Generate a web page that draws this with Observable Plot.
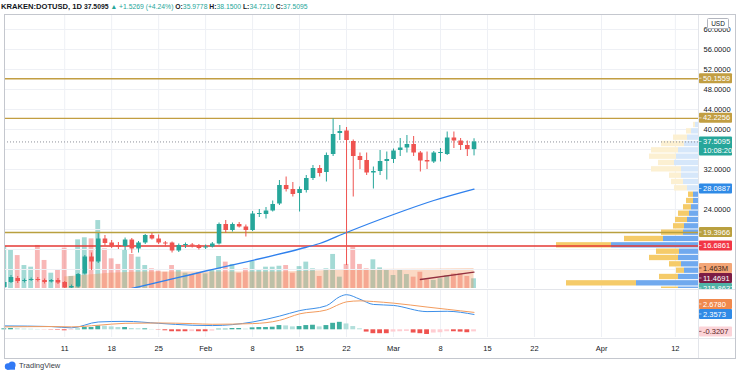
<!DOCTYPE html>
<html><head><meta charset="utf-8">
<script src="https://cdn.jsdelivr.net/npm/d3@7"></script>
<script src="https://cdn.jsdelivr.net/npm/@observablehq/plot@0.6"></script>
<style>
html,body{margin:0;padding:0;background:#fff}
#chart{position:relative;width:736px;height:374px;overflow:hidden;background:#fff;font-family:"Liberation Sans",Arial,sans-serif}
#chart svg{position:absolute;left:0;top:0}
.hdr{position:absolute;left:1px;top:2px;font-size:6.8px;line-height:10px;white-space:nowrap;color:#131722;font-weight:bold}
.hdr .t{font-size:7.6px}
.hdr .g{color:#26a69a;font-weight:normal}
.ln{position:absolute;background:#c4c7ce}
.sep{position:absolute;background:#e3e5ea}
.foot{position:absolute;left:4px;top:361px;font-size:7.5px;color:#3a3e48;display:flex;align-items:center;gap:2px}
</style></head><body><div id="chart"></div>
<script>
// ---------------- data ----------------
const dates = ["2021-01-02","2021-01-03","2021-01-04","2021-01-05","2021-01-06","2021-01-07","2021-01-08","2021-01-09","2021-01-10","2021-01-11",
"2021-01-12","2021-01-13","2021-01-14","2021-01-15","2021-01-16","2021-01-17","2021-01-18","2021-01-19","2021-01-20","2021-01-21",
"2021-01-22","2021-01-23","2021-01-24","2021-01-25","2021-01-26","2021-01-27","2021-01-28","2021-01-29","2021-01-30","2021-01-31",
"2021-02-01","2021-02-02","2021-02-03","2021-02-04","2021-02-05","2021-02-06","2021-02-07","2021-02-08","2021-02-09","2021-02-10",
"2021-02-11","2021-02-12","2021-02-13","2021-02-14","2021-02-15","2021-02-16","2021-02-17","2021-02-18","2021-02-19","2021-02-20",
"2021-02-21","2021-02-22","2021-02-23","2021-02-24","2021-02-25","2021-02-26","2021-02-27","2021-02-28",
"2021-03-01","2021-03-02","2021-03-03","2021-03-04","2021-03-05","2021-03-06","2021-03-07","2021-03-08","2021-03-09","2021-03-10","2021-03-11","2021-03-12","2021-03-13"];
const open = [8.4,9.4,10.2,9.6,9.8,10.0,9.8,9.5,9.8,9.4, 8.3,8.5,11.1,14.5,13.5,18.1,17.3,16.8,16.6,17.9, 16.1,17.3,18.8,18.1,17.3,17.3,15.7,16.8,16.9,16.8,
16.3,16.5,17.1,21.0,19.8,21.0,20.5,19.8,23.0,23.0, 23.7,25.1,28.8,28.0,27.2,27.8,30.2,32.2,31.4,35.0, 39.2,39.7,37.6,34.6,33.8,31.3,31.6,33.6,
34.0,35.8,36.3,37.0,35.3,33.8,33.5,35.2,35.0,38.3,37.7,36.8,35.9778];
const high = [9.7,10.8,10.6,10.1,10.3,10.4,10.1,10.0,10.2,9.6, 8.9,11.2,14.8,15.3,19.2,18.8,17.8,17.4,18.3,18.2, 17.6,19.0,19.2,18.9,17.6,17.5,17.1,17.3,17.2,17.0,
16.9,17.4,21.3,21.8,21.3,21.4,20.9,23.6,24.0,24.4, 25.7,29.8,30.5,29.4,28.5,30.8,32.8,32.8,35.3,42.1, 40.8,40.4,37.9,35.3,35.3,32.5,35.8,35.5,
36.1,38.2,38.8,38.6,35.6,35.5,35.6,36.2,39.5,39.5,38.2,37.7,38.15];
const low = [8.2,9.2,9.2,9.3,9.6,9.5,9.1,9.3,9.0,7.9, 8.0,8.3,10.9,11.8,13.2,16.6,16.2,16.0,15.8,15.2, 15.3,17.0,17.9,17.0,16.5,15.3,15.4,16.2,16.3,15.9,
16.0,16.3,16.9,19.2,19.5,20.3,18.5,19.6,22.4,22.1, 23.5,24.8,27.5,26.5,23.5,27.3,29.8,30.5,29.5,34.6, 37.8,12.8,26.5,32.0,30.8,28.1,30.8,29.9,
33.2,34.6,35.3,34.6,31.5,32.0,33.2,33.5,34.8,36.2,35.8,34.6,34.721];
const close = [9.4,10.4,9.6,9.8,10.0,9.8,9.4,9.8,9.3,8.3, 8.6,11.0,14.5,13.5,18.1,17.2,16.5,16.4,17.9,16.1, 17.3,18.8,18.1,17.3,17.1,15.7,16.8,16.9,16.8,16.2,
16.5,17.1,21.0,19.8,21.0,20.5,19.8,23.1,23.1,23.7, 25.0,28.8,28.0,27.0,28.0,30.2,32.2,31.2,34.8,39.0, 39.6,37.8,34.6,33.8,31.3,31.6,33.6,34.0,
35.7,36.3,37.0,35.3,33.7,33.5,35.3,35.4,38.3,37.7,36.8,35.9826,37.5095];
const volume = [3.07,2.78,2.41,1.68,1.56,3.15,2.05,1.12,1.32,2.95, 0.88,3.56,3.71,3.63,4.97,2.9,2.17,1.76,2.83,2.49, 2.29,1.68,1.44,1.27,1.19,1.68,1.32,1.12,1.02,1.12,
1.07,1.37,2.34,1.93,1.76,1.12,1.44,2.0,1.39,1.56, 1.56,1.63,1.68,1.12,1.6,1.93,1.44,0.88,1.44,2.49, 0.83,1.76,3.02,1.76,1.44,2.1,1.51,1.37,
0.95,1.37,1.02,0.83,1.19,0.64,0.59,0.71,0.95,1.07,1.07,0.88,0.71];
const macdHist = [0.15,0.2,0.15,0.1,0.08,0.05,-0.02,-0.05,-0.08,-0.15, -0.1,0.1,0.35,0.35,0.6,0.55,0.45,0.35,0.35,0.2, 0.15,0.15,0.05,-0.05,-0.15,-0.3,-0.3,-0.3,-0.28,-0.3,
-0.3,-0.2,0.1,0.1,0.2,0.2,0.1,0.3,0.35,0.35, 0.4,0.65,0.6,0.45,0.5,0.65,0.7,0.45,0.65,1.0, 1.15,0.9,0.5,0.15,-0.35,-0.6,-0.6,-0.6,
-0.35,-0.3,-0.25,-0.5,-0.6,-0.72,-0.5,-0.45,-0.3,-0.3,-0.35,-0.45,-0.3207];

const maDates = ["2021-01-20","2021-01-21","2021-02-01","2021-02-15","2021-02-18","2021-02-22","2021-03-01","2021-03-07","2021-03-13"];
const maValues = [7.9,8.2,11.7,16.1,17.2,19.4,23.0,25.8,28.0887];

const macdDates = ["2021-01-02","2021-01-09","2021-01-12","2021-01-16","2021-01-20","2021-01-25","2021-01-30","2021-02-02","2021-02-08","2021-02-12","2021-02-15","2021-02-19","2021-02-21","2021-02-22","2021-02-24","2021-02-26","2021-03-01","2021-03-06","2021-03-09","2021-03-13"];
const macdLine = [0.6,0.5,0.3,1.2,1.3,1.0,0.7,0.65,1.2,2.1,2.95,3.7,5.1,5.4,4.7,3.9,3.75,2.8,2.85,2.3573];
const signalLine = [0.45,0.5,0.45,0.7,1.0,1.05,0.95,0.85,0.95,1.45,2.45,3.05,3.95,4.3,4.45,4.35,4.1,3.5,3.15,2.678];

const volMaDates = ["2021-01-11","2021-01-16","2021-01-23","2021-02-05","2021-02-15","2021-02-22","2021-03-01","2021-03-13"];
const volMaValues = [0.85,1.05,1.2,1.2,1.25,1.35,1.4,1.463];

const trendDates = ["2021-03-05","2021-03-13"];
const trendValues = [10.0,11.4691];

const levelValues = [50.1559,42.2256,19.3966,16.6861];
const levelColors = ["#c29e42","#c29e42","#b9a03f","#e53935"];

const priceTicks = [60,56,52,48,44,40,36,32,28,24,20,16,12];
const dateTicks = ["2021-01-11","2021-01-18","2021-01-25","2021-02-01","2021-02-08","2021-02-15","2021-02-22","2021-03-01","2021-03-08","2021-03-15","2021-03-22","2021-04-01","2021-04-12"];
const monthNames = ["Jan","Feb","Mar","Apr"];

// visible range volume profile (k units)
const profileLow = [7.33,8.6,9.87,11.13,12.4,13.67,14.93,16.2,17.47,18.73,20.0,21.27,22.53,23.8,25.07,26.33,27.6,28.87,30.13,31.4,32.67,33.93,35.2,36.47,37.73,39.0,40.27];
const profileRow = 1.267;
const profileUp = [100,310,100,70,85,100,95,435,175,75,70,55,45,35,25,25,55,75,85,85,120,110,100,70,55,35,15];
const profileDown = [85,350,95,40,60,145,115,275,195,110,55,60,55,40,35,25,65,60,60,150,80,135,135,115,70,25,10];
const valueAreaHigh = 27.6;

// ---------------- build ----------------
const DAY = 864e5;
const t0 = Date.UTC(2021,2,1);
const xDomain = [new Date(t0 - 57.97*DAY), new Date(t0 + 45.45*DAY)];
const FONT = '"Liberation Sans",Arial,sans-serif';
const UP = "#26a69a", DN = "#ef5350";

const candles = dates.map((d,i)=>({date:new Date(d), o:open[i], h:high[i], l:low[i], c:close[i], v:volume[i], up: close[i]>=open[i], hist: macdHist[i], prevHist: i? macdHist[i-1] : 0}));
const ma = maDates.map((d,i)=>({date:new Date(d), v:maValues[i]}));
const macd = macdDates.map((d,i)=>({date:new Date(d), m:macdLine[i], s:signalLine[i]}));
const volMa = volMaDates.map((d,i)=>({date:new Date(d), v:volMaValues[i]}));
const trend = trendDates.map((d,i)=>({date:new Date(d), v:trendValues[i]}));
const levels = levelValues.map((v,i)=>({v, c:levelColors[i]}));
const tickDates = dateTicks.map(d=>new Date(d));
const rows = profileLow.map((lo,i)=>({lo, hi: lo+profileRow, up: profileUp[i], down: profileDown[i], va: lo < valueAreaHigh}));
const halfBar = d => new Date(+d.date - 0.36*DAY);
const halfBar2 = d => new Date(+d.date + 0.36*DAY);

const base = {width:736, marginLeft:4, marginRight:38, x:{type:"utc", domain:xDomain, axis:null}, color:{type:"identity"}, style:{background:"transparent", fontFamily:FONT}};
const priceY = {domain:[8.2,63], axis:null};

const volPlot = Plot.plot({...base, height:289, marginTop:14, marginBottom:1,
  y:{domain:[0,20.04], axis:null},
  marks:[
    Plot.ruleX(tickDates, {stroke:"#eef0f5"}),
    Plot.rect(candles, {x1:halfBar, x2:halfBar2, y1:0, y2:"v", fill:d=>d.up?"rgba(38,166,154,0.42)":"rgba(239,83,80,0.42)", clip:true}),
    Plot.areaY(volMa, {x:"date", y:"v", fill:"rgba(243,138,72,0.32)", curve:"monotone-x", clip:true})
  ]});

const profPlot = Plot.plot({width:736, height:289, marginTop:14, marginBottom:1, marginLeft:4, marginRight:38,
  x:{domain:[0,3470], reverse:true, axis:null}, y:priceY, color:{type:"identity"},
  style:{background:"transparent", fontFamily:FONT},
  marks:[
    Plot.ruleY(priceTicks, {stroke:"#eef0f5"}),
    Plot.rect(rows, {x1:0, x2:"up", y1:"lo", y2:"hi", fill:d=>d.va?"#70a9ee":"#d6e7fa", insetTop:0.5, insetBottom:0.5, clip:true}),
    Plot.rect(rows, {x1:"up", x2:d=>d.up+d.down, y1:"lo", y2:"hi", fill:d=>d.va?"#f5cb69":"#fcf0d2", insetTop:0.5, insetBottom:0.5, clip:true})
  ]});

const col = d=>d.up?UP:DN;
const bodyEnd = d=> Math.abs(d.c-d.o) < 0.2 ? d.o + (d.up?0.2:-0.2) : d.c;
const pricePlot = Plot.plot({...base, height:289, marginTop:14, marginBottom:1, y:priceY,
  marks:[
    Plot.ruleY(levels, {y:"v", stroke:"c", strokeWidth:1.4}),
    Plot.ruleY([close[close.length-1]], {stroke:"#8d909a", strokeDasharray:"1,2"}),
    Plot.line(ma, {x:"date", y:"v", stroke:"#2f80ed", strokeWidth:1.3, curve:"monotone-x", clip:true}),
    Plot.line(trend, {x:"date", y:"v", stroke:"#93303f", strokeWidth:1.3, clip:true}),
    Plot.ruleX(candles, {x:"date", y1:"l", y2:"h", stroke:col, strokeWidth:1, clip:true}),
    Plot.ruleX(candles, {x:"date", y1:"o", y2:bodyEnd, stroke:col, strokeWidth:4.6, clip:true})
  ]});

const histColor = d => d.hist >= 0 ? (d.hist >= d.prevHist ? "#3fae9f" : "#b2dfdb") : (d.hist <= d.prevHist ? "#ef5350" : "#ffcdd2");
const macdPlot = Plot.plot({...base, height:338, marginTop:290, marginBottom:1,
  y:{domain:[-1.185,6.046], axis:null},
  marks:[
    Plot.ruleX(tickDates, {stroke:"#eef0f5"}),
    Plot.rect(candles, {x1:halfBar, x2:halfBar2, y1:0, y2:"hist", fill:histColor}),
    Plot.line(macd, {x:"date", y:"m", stroke:"#3d8fe8", strokeWidth:1, curve:"monotone-x"}),
    Plot.line(macd, {x:"date", y:"s", stroke:"#f39c5e", strokeWidth:1, curve:"monotone-x"})
  ]});

const fmtTick = d => d.getUTCDate()===1 ? monthNames[d.getUTCMonth()] : String(d.getUTCDate());
const axisPlot = Plot.plot({...base, height:358, marginTop:339, marginBottom:0,
  marks:[ Plot.text(tickDates, {x:d=>d, text:fmtTick, frameAnchor:"middle", fontSize:7.5, fill:"#131722"}) ]});

// ---------------- value labels on the right scale ----------------
const py = v=>pricePlot.scale("y").apply(v);
const vy = v=>volPlot.scale("y").apply(v);
const my = v=>macdPlot.scale("y").apply(v);
const last = candles[candles.length-1];
const mainLabels = [
  {y:py(last.c), text:[last.c.toFixed(4),"10:08:20"], bg:"#26a69a", fg:"#fff", pri:10},
  {y:py(levelValues[0]), text:[levelValues[0].toFixed(4)], bg:levelColors[0], fg:"#fff", pri:9},
  {y:py(levelValues[1]), text:[levelValues[1].toFixed(4)], bg:levelColors[1], fg:"#fff", pri:9},
  {y:py(levelValues[2]), text:[levelValues[2].toFixed(4)], bg:levelColors[2], fg:"#fff", pri:9},
  {y:py(levelValues[3]), text:[levelValues[3].toFixed(4)], bg:"#f23645", fg:"#fff", pri:9},
  {y:py(maValues[maValues.length-1]), text:[maValues[maValues.length-1].toFixed(4)], bg:"#2f8ae6", fg:"#fff", pri:8},
  {y:vy(volMaValues[volMaValues.length-1]), text:[volMaValues[volMaValues.length-1].toFixed(3)+"M"], bg:"#f3a677", fg:"#3b2416", pri:7},
  {y:py(trendValues[1]), text:[trendValues[1].toFixed(4)], bg:"#7d1c45", fg:"#fff", pri:6},
  {y:vy(0.2159), text:["215.8637"], bg:"#4fb3a6", fg:"#fff", pri:5}
];
const macdLabels = [
  {y:my(macdLine[macdLine.length-1]), text:[macdLine[macdLine.length-1].toFixed(4)], bg:"#2f8ae6", fg:"#fff", pri:3},
  {y:my(signalLine[signalLine.length-1]), text:[signalLine[signalLine.length-1].toFixed(4)], bg:"#f0894d", fg:"#fff", pri:2},
  {y:my(macdHist[macdHist.length-1]), text:[macdHist[macdHist.length-1].toFixed(4)], bg:"#fbd3d8", fg:"#5a1f24", pri:1}
];
function resolve(list){
  const placed=[];
  list.slice().sort((a,b)=>b.pri-a.pri).forEach(l=>{
    l.top=-5; l.bot=5+(l.text.length-1)*9;
    for(let k=0;k<20;k++){
      let moved=false;
      for(const p of placed){
        const a1=l.y+l.top, a2=l.y+l.bot, b1=p.y+p.top, b2=p.y+p.bot;
        if(a1<b2 && a2>b1){ if(l.y>=p.y) l.y=b2-l.top; else l.y=b1-l.bot; moved=true; }
      }
      if(!moved) break;
    }
    placed.push(l);
  });
}
resolve(mainLabels); resolve(macdLabels);

// price scale tick labels: those hidden behind a value label are not drawn (as on the reference)
const visibleTicks = priceTicks.filter(t=>{
  const y=py(t);
  return !mainLabels.some(l=> y+3 > l.y+l.top && y-3 < l.y+l.bot);
});
const tickPlot = Plot.plot({...base, height:289, marginTop:14, marginBottom:1, y:priceY,
  marks:[ Plot.text(visibleTicks, {y:d=>d, text:d=>d.toFixed(4), frameAnchor:"right", textAnchor:"start", dx:5, fontSize:7.5, fill:"#131722"}) ]});

function draw(svg, list){
  const g=d3.select(svg).append("g").attr("font-family",FONT).attr("font-size",7.5).attr("text-anchor","start");
  list.forEach(l=>{
    g.append("rect").attr("x",699).attr("y",l.y+l.top).attr("width",33).attr("height",l.bot-l.top).attr("rx",1).attr("fill",l.bg);
    g.append("line").attr("x1",699).attr("x2",701.5).attr("y1",l.y).attr("y2",l.y).attr("stroke",l.fg).attr("stroke-opacity",0.6);
    l.text.forEach((t,i)=>g.append("text").attr("x",703).attr("y",l.y+i*9).attr("dy","0.35em").attr("text-anchor","start").attr("fill",l.fg).text(t));
  });
}
draw(pricePlot, mainLabels); draw(macdPlot, macdLabels);
// currency box
const ug=d3.select(pricePlot).append("g");
ug.append("rect").attr("x",707.5).attr("y",18.5).attr("width",21).attr("height",10).attr("fill","#fff").attr("stroke","#b2b5be").attr("rx",1);
ug.append("text").attr("x",718).attr("y",23.5).attr("dy","0.35em").attr("text-anchor","middle").attr("font-size",6.5).attr("font-family",FONT).attr("fill","#131722").text("USD");

const chart = document.getElementById("chart");
[volPlot, profPlot, tickPlot, pricePlot, macdPlot, axisPlot].forEach(p=>chart.appendChild(p));

// ---------------- header, frame, footer ----------------
const prev = candles[candles.length-2].c;
const chg = last.c - prev;
const hdr=document.createElement("div"); hdr.className="hdr";
hdr.innerHTML = `<span class="t">KRAKEN:DOTUSD, 1D</span> ${last.c.toFixed(4)} <span class="g">▲ +${chg.toFixed(4)} (+${(chg/prev*100).toFixed(2)}%)</span> O:<span class="g">${last.o.toFixed(4)}</span> H:<span class="g">${last.h.toFixed(4)}</span> L:<span class="g">${last.l.toFixed(4)}</span> C:<span class="g">${last.c.toFixed(4)}</span>`;
chart.appendChild(hdr);
const lines=[["ln",4,14,732,1],["ln",4,14,1,345],["ln",4,358,732,1],["ln",735,14,1,345],["sep",698,15,1,343],["sep",5,289,730,1],["sep",5,338,730,1]];
lines.forEach(([c,l,t,w,h])=>{const e=document.createElement("div");e.className=c;Object.assign(e.style,{left:l+"px",top:t+"px",width:w+"px",height:h+"px"});chart.appendChild(e);});
const foot=document.createElement("div"); foot.className="foot";
foot.innerHTML='<svg width="13" height="9" style="position:static"><circle cx="4" cy="5.5" r="3.2" fill="#3179f5"/><circle cx="8" cy="4" r="3.6" fill="#3179f5"/><rect x="3" y="5" width="8" height="3.7" fill="#3179f5"/></svg><span>TradingView</span>';
chart.appendChild(foot);
</script></body></html>
